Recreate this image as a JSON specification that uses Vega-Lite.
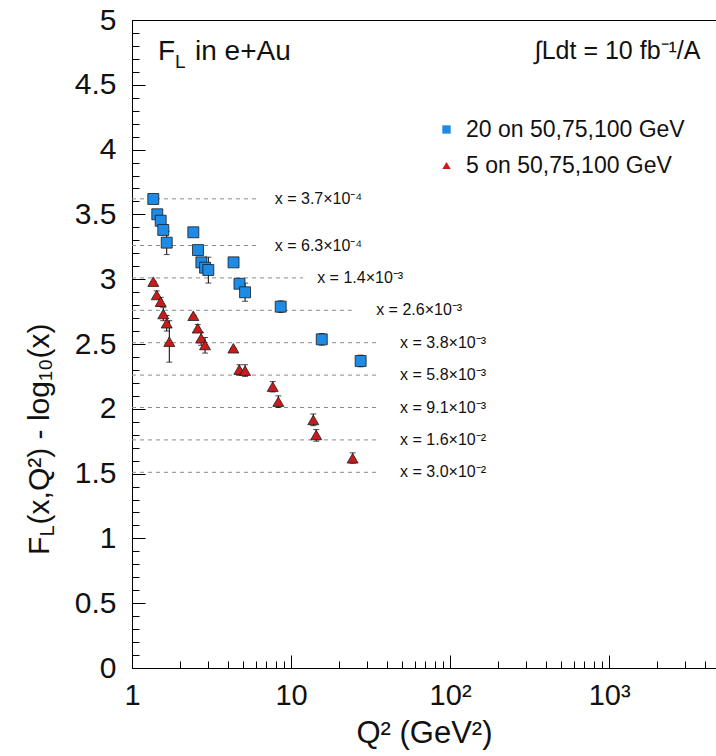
{
  "$schema": "https://vega.github.io/schema/vega-lite/v6.json",
  "width": 584,
  "height": 648,
  "autosize": {"type": "none"},
  "padding": {"left": 132, "top": 20, "right": 0, "bottom": 88},
  "background": "white",
  "resolve": {"axis": {"x": "independent", "y": "independent"}},
  "datasets": {
    "pts": [
      {"series": "20 on 50,75,100 GeV", "q2": 1.361, "f": 3.619, "lo": 3.619, "hi": 3.619},
      {"series": "20 on 50,75,100 GeV", "q2": 1.442, "f": 3.501, "lo": 3.501, "hi": 3.501},
      {"series": "20 on 50,75,100 GeV", "q2": 1.515, "f": 3.451, "lo": 3.451, "hi": 3.451},
      {"series": "20 on 50,75,100 GeV", "q2": 1.573, "f": 3.38, "lo": 3.38, "hi": 3.38},
      {"series": "20 on 50,75,100 GeV", "q2": 1.653, "f": 3.282, "lo": 3.19, "hi": 3.37},
      {"series": "20 on 50,75,100 GeV", "q2": 2.43, "f": 3.362, "lo": 3.362, "hi": 3.362},
      {"series": "20 on 50,75,100 GeV", "q2": 2.6, "f": 3.225, "lo": 3.225, "hi": 3.225},
      {"series": "20 on 50,75,100 GeV", "q2": 2.73, "f": 3.13, "lo": 3.13, "hi": 3.13},
      {"series": "20 on 50,75,100 GeV", "q2": 2.88, "f": 3.089, "lo": 3.06, "hi": 3.12},
      {"series": "20 on 50,75,100 GeV", "q2": 3.02, "f": 3.071, "lo": 2.97, "hi": 3.17},
      {"series": "20 on 50,75,100 GeV", "q2": 4.35, "f": 3.13, "lo": 3.1, "hi": 3.16},
      {"series": "20 on 50,75,100 GeV", "q2": 4.74, "f": 2.965, "lo": 2.935, "hi": 2.995},
      {"series": "20 on 50,75,100 GeV", "q2": 5.14, "f": 2.899, "lo": 2.83, "hi": 2.97},
      {"series": "20 on 50,75,100 GeV", "q2": 8.61, "f": 2.788, "lo": 2.743, "hi": 2.833},
      {"series": "20 on 50,75,100 GeV", "q2": 15.6, "f": 2.536, "lo": 2.491, "hi": 2.581},
      {"series": "20 on 50,75,100 GeV", "q2": 27.4, "f": 2.369, "lo": 2.324, "hi": 2.414},
      {"series": "5 on 50,75,100 GeV", "q2": 1.361, "f": 2.981, "lo": 2.981, "hi": 2.981},
      {"series": "5 on 50,75,100 GeV", "q2": 1.43, "f": 2.878, "lo": 2.85, "hi": 2.91},
      {"series": "5 on 50,75,100 GeV", "q2": 1.515, "f": 2.826, "lo": 2.79, "hi": 2.86},
      {"series": "5 on 50,75,100 GeV", "q2": 1.573, "f": 2.731, "lo": 2.68, "hi": 2.78},
      {"series": "5 on 50,75,100 GeV", "q2": 1.653, "f": 2.66, "lo": 2.6, "hi": 2.72},
      {"series": "5 on 50,75,100 GeV", "q2": 1.716, "f": 2.518, "lo": 2.36, "hi": 2.68},
      {"series": "5 on 50,75,100 GeV", "q2": 2.43, "f": 2.718, "lo": 2.718, "hi": 2.718},
      {"series": "5 on 50,75,100 GeV", "q2": 2.59, "f": 2.621, "lo": 2.59, "hi": 2.65},
      {"series": "5 on 50,75,100 GeV", "q2": 2.72, "f": 2.544, "lo": 2.49, "hi": 2.59},
      {"series": "5 on 50,75,100 GeV", "q2": 2.88, "f": 2.492, "lo": 2.43, "hi": 2.55},
      {"series": "5 on 50,75,100 GeV", "q2": 4.34, "f": 2.467, "lo": 2.467, "hi": 2.467},
      {"series": "5 on 50,75,100 GeV", "q2": 4.73, "f": 2.302, "lo": 2.26, "hi": 2.34},
      {"series": "5 on 50,75,100 GeV", "q2": 5.14, "f": 2.294, "lo": 2.25, "hi": 2.34},
      {"series": "5 on 50,75,100 GeV", "q2": 7.67, "f": 2.171, "lo": 2.13, "hi": 2.21},
      {"series": "5 on 50,75,100 GeV", "q2": 8.32, "f": 2.055, "lo": 2.01, "hi": 2.1},
      {"series": "5 on 50,75,100 GeV", "q2": 13.8, "f": 1.914, "lo": 1.87, "hi": 1.96},
      {"series": "5 on 50,75,100 GeV", "q2": 14.4, "f": 1.798, "lo": 1.75, "hi": 1.84},
      {"series": "5 on 50,75,100 GeV", "q2": 24.4, "f": 1.618, "lo": 1.58, "hi": 1.66}
    ],
    "refs": [
      {"y": 3.62, "xstart": 1, "xend": 6.2, "label": "x = 3.7×10⁻⁴", "lx": 7.9},
      {"y": 3.26, "xstart": 1, "xend": 6.2, "label": "x = 6.3×10⁻⁴", "lx": 7.9},
      {"y": 3.01, "xstart": 1, "xend": 11.9, "label": "x = 1.4×10⁻³", "lx": 14.6},
      {"y": 2.76, "xstart": 1, "xend": 24.1, "label": "x = 2.6×10⁻³", "lx": 34.3},
      {"y": 2.51, "xstart": 1, "xend": 34.7, "label": "x = 3.8×10⁻³", "lx": 48.5},
      {"y": 2.26, "xstart": 1, "xend": 34.7, "label": "x = 5.8×10⁻³", "lx": 48.5},
      {"y": 2.01, "xstart": 1, "xend": 34.7, "label": "x = 9.1×10⁻³", "lx": 48.5},
      {"y": 1.76, "xstart": 1, "xend": 34.7, "label": "x = 1.6×10⁻²", "lx": 48.5},
      {"y": 1.51, "xstart": 1, "xend": 34.7, "label": "x = 3.0×10⁻²", "lx": 48.5}
    ]
  },
  "layer": [
    {
      "data": {"name": "refs"},
      "mark": {"type": "rule", "color": "#8a8a8a", "strokeWidth": 1, "strokeDash": [4, 4]},
      "encoding": {
        "x": {
          "field": "xstart", "type": "quantitative",
          "scale": {"type": "log", "domain": [1, 4700], "nice": false},
          "axis": {
            "title": "Q² (GeV²)",
            "titleFontSize": 31,
            "titlePadding": 2,
            "values": [1,2,3,4,5,6,7,8,9,10,20,30,40,50,60,70,80,90,100,200,300,400,500,600,700,800,900,1000,2000,3000,4000],
            "labelExpr": "datum.value == 1 ? '1' : datum.value == 10 ? '10' : datum.value == 100 ? '10²' : datum.value == 1000 ? '10³' : ''",
            "labelFontSize": 29,
            "labelPadding": 26,
            "labelFlush": false,
            "labelOverlap": false,
            "labelBound": false,
            "tickSize": {"condition": {"test": "indexof([1,10,100,1000], datum.value) >= 0", "value": -13}, "value": -7}
          }
        },
        "x2": {"field": "xend"},
        "y": {
          "field": "y", "type": "quantitative",
          "scale": {"domain": [0, 5], "nice": false, "zero": false},
          "axis": {
            "title": null,
            "values": [0,0.1,0.2,0.3,0.4,0.5,0.6,0.7,0.8,0.9,1,1.1,1.2,1.3,1.4,1.5,1.6,1.7,1.8,1.9,2,2.1,2.2,2.3,2.4,2.5,2.6,2.7,2.8,2.9,3,3.1,3.2,3.3,3.4,3.5,3.6,3.7,3.8,3.9,4,4.1,4.2,4.3,4.4,4.5,4.6,4.7,4.8,4.9,5],
            "labelExpr": "abs(datum.value*2 - round(datum.value*2)) < 0.001 ? format(datum.value, '~g') : ''",
            "labelFontSize": 30,
            "labelPadding": 29,
            "labelOverlap": false,
            "labelBound": false,
            "labelFlush": false,
            "tickSize": {"condition": {"test": "abs(datum.value*2 - round(datum.value*2)) < 0.001", "value": -13}, "value": -7}
          }
        }
      }
    },
    {
      "data": {"name": "refs"},
      "mark": {"type": "text", "align": "left", "baseline": "middle", "fontSize": 16, "color": "#111"},
      "encoding": {
        "x": {"field": "lx", "type": "quantitative", "axis": null},
        "y": {"field": "y", "type": "quantitative", "axis": null},
        "text": {"field": "label"}
      }
    },
    {
      "data": {"name": "pts"},
      "mark": {"type": "rule", "color": "#000", "strokeWidth": 1},
      "encoding": {
        "x": {"field": "q2", "type": "quantitative", "axis": null},
        "y": {"field": "lo", "type": "quantitative", "axis": null},
        "y2": {"field": "hi"}
      }
    },
    {
      "data": {"name": "pts"},
      "mark": {"type": "tick", "orient": "horizontal", "size": 6, "thickness": 1, "color": "#000"},
      "encoding": {
        "x": {"field": "q2", "type": "quantitative", "axis": null},
        "y": {"field": "lo", "type": "quantitative", "axis": null}
      }
    },
    {
      "data": {"name": "pts"},
      "mark": {"type": "tick", "orient": "horizontal", "size": 6, "thickness": 1, "color": "#000"},
      "encoding": {
        "x": {"field": "q2", "type": "quantitative", "axis": null},
        "y": {"field": "hi", "type": "quantitative", "axis": null}
      }
    },
    {
      "data": {"name": "pts"},
      "mark": {"type": "point", "filled": true, "opacity": 1, "size": 120, "stroke": "#1a1a1a", "strokeWidth": 0.8},
      "encoding": {
        "x": {"field": "q2", "type": "quantitative", "axis": null},
        "y": {"field": "f", "type": "quantitative", "axis": null},
        "color": {
          "field": "series", "type": "nominal",
          "scale": {"domain": ["20 on 50,75,100 GeV", "5 on 50,75,100 GeV"], "range": ["#1e8ce6", "#cc1a1a"]},
          "legend": {"orient": "none", "legendX": 303, "legendY": 98, "title": null, "labelFontSize": 23, "labelLimit": 400, "labelColor": "#111", "symbolSize": 70, "symbolStrokeWidth": 0, "rowPadding": 12, "labelOffset": 8, "padding": 0}
        },
        "shape": {
          "field": "series", "type": "nominal",
          "scale": {"domain": ["20 on 50,75,100 GeV", "5 on 50,75,100 GeV"], "range": ["square", "triangle-up"]},
          "legend": {"orient": "none", "legendX": 303, "legendY": 98, "title": null, "labelFontSize": 23, "labelLimit": 400, "labelColor": "#111", "symbolSize": 70, "symbolStrokeWidth": 0, "rowPadding": 12, "labelOffset": 8, "padding": 0}
        }
      }
    },
    {
      "data": {"values": [{}]},
      "mark": {"type": "text", "text": "F", "fontSize": 28, "align": "left", "baseline": "alphabetic", "color": "#111"},
      "encoding": {"x": {"datum": 1.457, "type": "quantitative", "axis": null}, "y": {"datum": 4.691, "type": "quantitative", "axis": null}}
    },
    {
      "data": {"values": [{}]},
      "mark": {"type": "text", "text": "L", "fontSize": 19, "align": "left", "baseline": "alphabetic", "color": "#111"},
      "encoding": {"x": {"datum": 1.865, "type": "quantitative", "axis": null}, "y": {"datum": 4.63, "type": "quantitative", "axis": null}}
    },
    {
      "data": {"values": [{}]},
      "mark": {"type": "text", "text": "in e+Au", "fontSize": 28, "align": "left", "baseline": "alphabetic", "color": "#111"},
      "encoding": {"x": {"datum": 2.49, "type": "quantitative", "axis": null}, "y": {"datum": 4.691, "type": "quantitative", "axis": null}}
    },
    {
      "data": {"values": [{}]},
      "mark": {"type": "text", "text": "∫Ldt = 10 fb⁻¹/A", "fontSize": 25, "align": "right", "baseline": "alphabetic", "color": "#111"},
      "encoding": {"x": {"datum": 3755, "type": "quantitative", "axis": null}, "y": {"datum": 4.7, "type": "quantitative", "axis": null}}
    },
    {
      "data": {"values": [{}]},
      "mark": {"type": "text", "text": "F", "fontSize": 30, "angle": 270, "align": "left", "baseline": "middle", "color": "#111"},
      "encoding": {"x": {"datum": 0.2636, "type": "quantitative", "axis": null}, "y": {"datum": 0.872, "type": "quantitative", "axis": null}}
    },
    {
      "data": {"values": [{}]},
      "mark": {"type": "text", "text": "L", "fontSize": 20, "angle": 270, "align": "left", "baseline": "middle", "dy": 8, "color": "#111"},
      "encoding": {"x": {"datum": 0.2636, "type": "quantitative", "axis": null}, "y": {"datum": 1.015, "type": "quantitative", "axis": null}}
    },
    {
      "data": {"values": [{}]},
      "mark": {"type": "text", "text": "(x,Q²) - log₁₀(x)", "fontSize": 30, "angle": 270, "align": "left", "baseline": "middle", "color": "#111"},
      "encoding": {"x": {"datum": 0.2636, "type": "quantitative", "axis": null}, "y": {"datum": 1.108, "type": "quantitative", "axis": null}}
    }
  ],
  "config": {
    "font": "Liberation Sans",
    "view": {"stroke": "#000", "strokeWidth": 1},
    "axis": {"domainColor": "#000", "tickColor": "#000", "labelColor": "#111", "titleColor": "#111", "labelFont": "Liberation Sans", "titleFont": "Liberation Sans", "titleFontWeight": "normal", "grid": false, "domainWidth": 1, "tickWidth": 1, "labelOverlap": false},
    "legend": {"labelFont": "Liberation Sans"}
  }
}
